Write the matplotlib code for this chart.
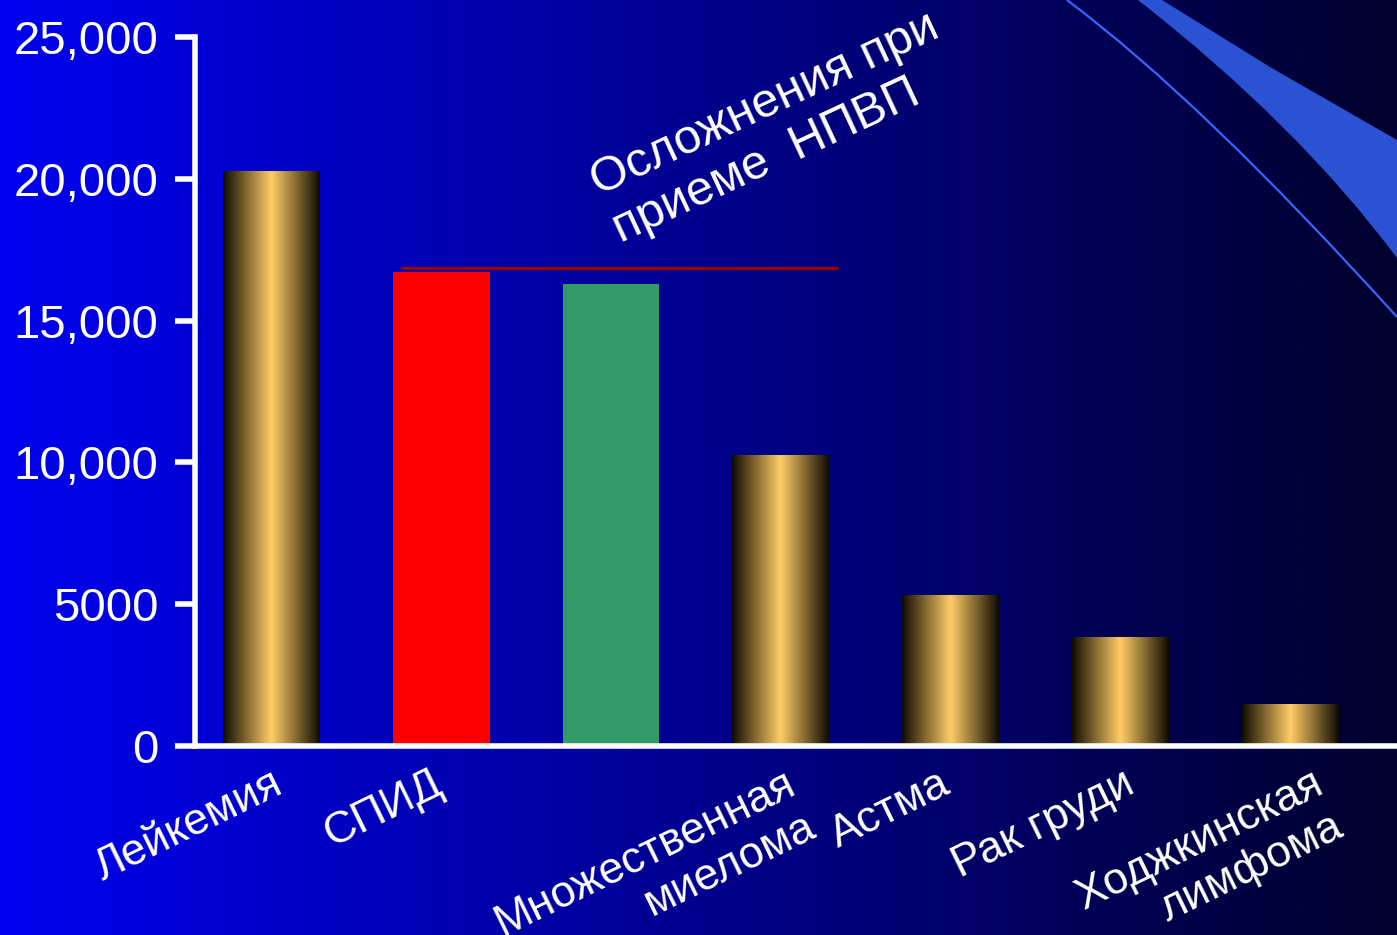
import numpy as np
import matplotlib.pyplot as plt
from matplotlib.colors import LinearSegmentedColormap
from matplotlib.path import Path
from matplotlib.patches import PathPatch

plt.rcParams['font.family'] = ['Liberation Sans', 'DejaVu Sans']

# data
categories = ['Лейкемия', 'СПИД', '', 'Множественная\nмиелома', 'Астма',
              'Рак груди', 'Ходжкинская\nлимфома']
deaths = [20240, 16710, 16290, 10260, 5320, 3840, 1480]
ytick_values = [0, 5000, 10000, 15000, 20000, 25000]
ytick_labels = ['0', '5000', '10,000', '15,000', '20,000', '25,000']
nsaid_level = 16870
nsaid_span = [0.76, 3.34]
note = 'Осложнения при\nприеме  НПВП'

# styles
W, H = 1397, 935
bar_kind = ['gold', 'red', 'green', 'gold', 'gold', 'gold', 'gold']
flat_colors = {'red': '#ff0000', 'green': '#339966'}
label_dx = [0, -10, 0, 3, -12, 2, 21]

bg_cmap = LinearSegmentedColormap.from_list('bg', ['#0000f0', '#00002d'])
gold = LinearSegmentedColormap.from_list('gold', ['#100b00', '#ffcc66', '#100b00'])


def drawBackground(fig):
    bg = fig.add_axes([0, 0, 1, 1], zorder=0)
    bg.set_xlim(0, W)
    bg.set_ylim(H, 0)
    bg.axis('off')
    bg.imshow(np.linspace(0, 1, 512)[None, :], extent=(0, W, H, 0),
              aspect='auto', cmap=bg_cmap)

    # decorative swoosh in the top right corner
    band = Path([(1138, 0), (1298, 125), (1397, 258), (1397, 140),
                 (1270, 67), (1162, 0), (1138, 0)],
                [Path.MOVETO, Path.CURVE3, Path.CURVE3, Path.LINETO,
                 Path.LINETO, Path.LINETO, Path.CLOSEPOLY])
    bg.add_patch(PathPatch(band, facecolor='#2a52d2', edgecolor='none'))
    arc = Path([(1067, 0), (1202, 101), (1397, 317)],
               [Path.MOVETO, Path.CURVE3, Path.CURVE3])
    bg.add_patch(PathPatch(arc, facecolor='none', edgecolor='#3366ff', lw=1.6))


def plotChart():
    fig = plt.figure(figsize=(W / 100, H / 100), dpi=100)
    drawBackground(fig)

    ax = fig.add_axes([195 / W, 189 / H, 1 - 195 / W, 709 / H], zorder=1)
    ax.set_facecolor('none')

    x = np.arange(len(deaths))
    bars = ax.bar(x, deaths, width=0.571, zorder=2)
    for b, kind in zip(bars, bar_kind):
        if kind == 'gold':
            b.set_facecolor('none')
            ax.imshow(np.linspace(0, 1, 256)[None, :], cmap=gold, aspect='auto',
                      extent=(b.get_x(), b.get_x() + b.get_width(), 0, b.get_height()),
                      zorder=2)
        else:
            b.set_facecolor(flat_colors[kind])

    ax.hlines(nsaid_level, nsaid_span[0], nsaid_span[1], color='#990000', lw=2.4, zorder=3)

    ax.set_xlim(-0.4507, 6.630)
    ax.set_ylim(0, 25000)

    for side in ['top', 'right']:
        ax.spines[side].set_visible(False)
    for side in ['left', 'bottom']:
        ax.spines[side].set_color('white')
        ax.spines[side].set_linewidth(4)
        ax.spines[side].set_zorder(4)

    ax.set_yticks(ytick_values)
    ax.set_yticklabels(ytick_labels)
    ax.tick_params(axis='y', colors='white', length=14.4, width=4, labelsize=34, pad=12)
    ax.set_xticks([])

    for i, lbl in enumerate(categories):
        ax.annotate(lbl, xy=(x[i], 0), xytext=(label_dx[i], -17),
                    textcoords='offset pixels', rotation=26, rotation_mode='anchor',
                    ha='right', va='top', color='white', fontsize=32,
                    linespacing=1.2, annotation_clip=False)

    ax.text(2.97, 21780, note, rotation=25, rotation_mode='anchor',
            ha='center', va='center', multialignment='left',
            color='white', fontsize=35)

    plt.savefig('out.png', dpi=100)


if __name__ == '__main__':
    plotChart()
